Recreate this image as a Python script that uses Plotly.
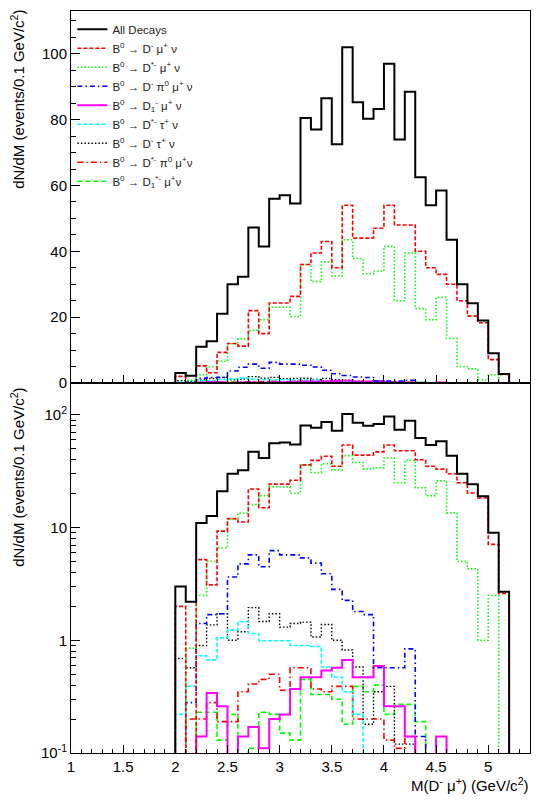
import plotly.graph_objects as go

# bin low edges, width 0.1 GeV/c^2
bin_lo = [1.0, 1.1, 1.2, 1.3, 1.4, 1.5, 1.6, 1.7, 1.8, 1.9,
          2.0, 2.1, 2.2, 2.3, 2.4, 2.5, 2.6, 2.7, 2.8, 2.9,
          3.0, 3.1, 3.2, 3.3, 3.4, 3.5, 3.6, 3.7, 3.8, 3.9,
          4.0, 4.1, 4.2, 4.3, 4.4, 4.5, 4.6, 4.7, 4.8, 4.9,
          5.0, 5.1, 5.2, 5.3]
bin_width = 0.1

all_decays = [0, 0, 0, 0, 0, 0, 0, 0, 0, 0,
              3.0, 2.2, 11.0, 12.7, 21.0, 30.0, 32.3, 47.2, 41.5, 56.0,
              57.0, 54.5, 80.5, 77.0, 86.5, 72.5, 102.0, 85.3, 80.3, 83.2,
              97.0, 74.0, 88.5, 62.5, 54.0, 58.5, 43.5, 30.0, 24.2, 19.0,
              9.0, 2.7, 0, 0]
d_mu_nu = [0, 0, 0, 0, 0, 0, 0, 0, 0, 0,
           2.0, 0, 5.2, 3.1, 9.3, 12.0, 11.2, 22.0, 15.0, 24.3,
           24.3, 26.3, 36.0, 39.5, 43.0, 35.0, 54.0, 44.0, 44.0, 47.0,
           54.0, 48.0, 48.0, 40.0, 35.0, 33.0, 30.0, 25.0, 20.3, 18.3,
           7.1, 2.6, 0, 0]
dstar_mu_nu = [0, 0, 0, 0, 0, 0, 0, 0, 0, 0,
               0, 0.85, 2.5, 5.0, 6.6, 11.9, 13.4, 16.0, 19.2, 23.0,
               23.0, 20.2, 36.0, 30.8, 36.8, 32.5, 43.5, 37.8, 33.2, 34.0,
               41.5, 25.0, 39.5, 22.6, 19.2, 26.0, 13.5, 5.0, 4.3, 1.0,
               2.5, 0, 0, 0]
d_pi0_mu_nu = [0, 0, 0, 0, 0, 0, 0, 0, 0, 0,
               0, 0.28, 1.41, 1.69, 1.72, 3.64, 4.77, 5.73, 4.5, 6.25,
               5.73, 5.73, 5.39, 4.84, 3.89, 2.83, 2.26, 1.8, 1.69, 0.57,
               0.57, 0.57, 0.84, 0.14, 0, 0, 0, 0, 0, 0,
               0, 0, 0, 0]
d1_mu_nu = [0, 0, 0, 0, 0, 0, 0, 0, 0, 0,
            0, 0, 0.14, 0.34, 0.26, 0, 0.14, 0.17, 0.11, 0.2,
            0.22, 0.37, 0.47, 0.47, 0.54, 0.57, 0.67, 0.47, 0.47, 0.59,
            0.26, 0.26, 0.14, 0, 0, 0.14, 0, 0, 0, 0,
            0, 0, 0, 0]
dstar_tau_nu = [0, 0, 0, 0, 0, 0, 0, 0, 0, 0,
                0.22, 0.39, 0.73, 0.67, 1.05, 1.23, 1.47, 1.15, 0.99, 0.99,
                0.99, 0.9, 0.9, 0.88, 0.58, 0.47, 0.35, 0.22, 0, 0,
                0, 0, 0, 0, 0, 0, 0, 0, 0, 0,
                0, 0, 0, 0]
d_tau_nu = [0, 0, 0, 0, 0, 0, 0, 0, 0, 0,
            0.69, 0.57, 0.9, 1.37, 1.72, 1.0, 1.19, 1.95, 1.47, 1.72,
            1.31, 1.41, 1.45, 1.07, 1.38, 1.0, 0.82, 0.58, 0.18, 0.35,
            0.39, 0.12, 0.12, 0, 0, 0, 0, 0, 0, 0,
            0, 0, 0, 0]
dstar_pi0_mu_nu = [0, 0, 0, 0, 0, 0, 0, 0, 0, 0,
                   0, 0.2, 0.2, 0.28, 0.19, 0.19, 0.35, 0.41, 0.45, 0.5,
                   0.36, 0.57, 0.57, 0.37, 0.35, 0.39, 0.39, 0.2, 0.2, 0.2,
                   0.13, 0.11, 0.14, 0, 0, 0, 0, 0, 0, 0,
                   0, 0, 0, 0]
d1star_mu_nu = [0, 0, 0, 0, 0, 0, 0, 0, 0, 0,
                0, 0, 0.23, 0.23, 0.13, 0.22, 0, 0.11, 0.23, 0.22,
                0.15, 0.13, 0.45, 0.33, 0.33, 0.3, 0.18, 0.39, 0.35, 0.4,
                0.22, 0.27, 0.27, 0.19, 0, 0, 0, 0, 0, 0,
                0, 0, 0, 0]

x_ticks = [1, 1.5, 2, 2.5, 3, 3.5, 4, 4.5, 5]
x_tick_text = ["1", "1.5", "2", "2.5", "3", "3.5", "4", "4.5", "5"]
log_ticks = [0.1, 1, 10, 100]
log_tick_text = ["10<sup>-1</sup>", "1", "10", "10<sup>2</sup>"]

series = [
    ("All Decays", all_decays, "black", "solid", 2),
    ("B<sup>0</sup> → D<sup>-</sup> μ<sup>+</sup> ν", d_mu_nu, "#ff0000", "4px,2px", 1.6),
    ("B<sup>0</sup> → D<sup>*-</sup> μ<sup>+</sup> ν", dstar_mu_nu, "#00ff00", "1.5px,2px", 1.6),
    ("B<sup>0</sup> → D<sup>-</sup> π<sup>0</sup> μ<sup>+</sup> ν", d_pi0_mu_nu, "#0000ff", "5px,3px,1.5px,3px", 1.6),
    ("B<sup>0</sup> → D<sub>1</sub><sup>-</sup> μ<sup>+</sup> ν", d1_mu_nu, "#ff00ff", "solid", 2),
    ("B<sup>0</sup> → D<sup>*-</sup> τ<sup>+</sup> ν", dstar_tau_nu, "#00ffff", "4px,2px", 1.6),
    ("B<sup>0</sup> → D<sup>-</sup> τ<sup>+</sup> ν", d_tau_nu, "black", "1.5px,2px", 1.4),
    ("B<sup>0</sup> → D<sup>*-</sup> π<sup>0</sup> μ<sup>+</sup>ν", dstar_pi0_mu_nu, "#ff0000", "6px,3px,1.5px,3px", 1.6),
    ("B<sup>0</sup> → D<sub>1</sub><sup>*-</sup> μ<sup>+</sup>ν", d1star_mu_nu, "#00ff00", "5px,3px", 1.6),
]

edges = bin_lo + [bin_lo[-1] + bin_width]

fig = go.Figure()

# draw in reverse so the total sits on top
for name, vals, color, dash, width in reversed(series):
    y = vals + [vals[-1]]
    fig.add_trace(go.Scatter(x=edges, y=y, mode="lines", line_shape="hv",
                             line=dict(color=color, dash=dash, width=width),
                             name=name, xaxis="x", yaxis="y", showlegend=True))
    # log panel: empty bins drop below the axis floor
    ylog = [v if v > 0 else 1e-3 for v in y]
    fig.add_trace(go.Scatter(x=edges, y=ylog, mode="lines", line_shape="hv",
                             line=dict(color=color, dash=dash, width=width),
                             name=name, xaxis="x2", yaxis="y2", showlegend=False))

font = "Liberation Sans, Arial, sans-serif"
split = 370 / 742

axis_common = dict(showline=True, linecolor="black", linewidth=1, mirror=True,
                   showgrid=False, zeroline=False, ticks="inside", tickcolor="black",
                   tickfont=dict(family=font, size=15, color="black"))

minor_log = [0.2, 0.3, 0.4, 0.5, 0.6, 0.7, 0.8, 0.9,
             2, 3, 4, 5, 6, 7, 8, 9,
             20, 30, 40, 50, 60, 70, 80, 90]

# page body adds an 8px offset, so margins are trimmed to compensate
fig.update_layout(
    width=546, height=804,
    margin=dict(l=63, r=24, t=3, b=59),
    paper_bgcolor="white", plot_bgcolor="white",
    font=dict(family=font, color="black"),
    xaxis=dict(domain=[0, 1], anchor="y", range=[1, 5.4], tickvals=x_ticks,
               showticklabels=False, ticklen=8,
               minor=dict(ticks="inside", ticklen=4, dtick=0.1, tick0=1, tickcolor="black"),
               **axis_common),
    yaxis=dict(domain=[split, 1], anchor="x", range=[0, 113], dtick=20, tick0=0,
               ticklen=9,
               minor=dict(ticks="inside", ticklen=5, dtick=5, tickcolor="black"),
               **axis_common),
    xaxis2=dict(domain=[0, 1], anchor="y2", range=[1, 5.4], tickvals=x_ticks,
                ticktext=x_tick_text, ticklen=8,
                minor=dict(ticks="inside", ticklen=4, dtick=0.1, tick0=1, tickcolor="black"),
                **axis_common),
    yaxis2=dict(domain=[0, split], anchor="x2", type="log", range=[-1, 2.283],
                tickvals=log_ticks, ticktext=log_tick_text, ticklen=9,
                minor=dict(ticks="inside", ticklen=5, tickvals=minor_log, tickcolor="black"),
                **axis_common),
    legend=dict(x=0.003, y=0.995, xanchor="left", yanchor="top",
                traceorder="reversed", bgcolor="rgba(255,255,255,0)",
                font=dict(family=font, size=11.5, color="#222"), itemwidth=30),
)

title_txt = "dN/dM (events/0.1 GeV/c<sup>2</sup>)"
fig.add_annotation(text=title_txt, xref="paper", yref="paper", x=-0.117, y=1.004,
                   xanchor="center", yanchor="top", textangle=-90, showarrow=False,
                   font=dict(family=font, size=15))
fig.add_annotation(text=title_txt, xref="paper", yref="paper", x=-0.117, y=split - 0.004,
                   xanchor="center", yanchor="top", textangle=-90, showarrow=False,
                   font=dict(family=font, size=15))
fig.add_annotation(text="M(D<sup>-</sup> μ<sup>+</sup>) (GeV/c<sup>2</sup>)",
                   xref="paper", yref="paper", x=1.0, y=-0.027,
                   xanchor="right", yanchor="top", showarrow=False,
                   font=dict(family=font, size=15))

fig.write_html("out.html")
